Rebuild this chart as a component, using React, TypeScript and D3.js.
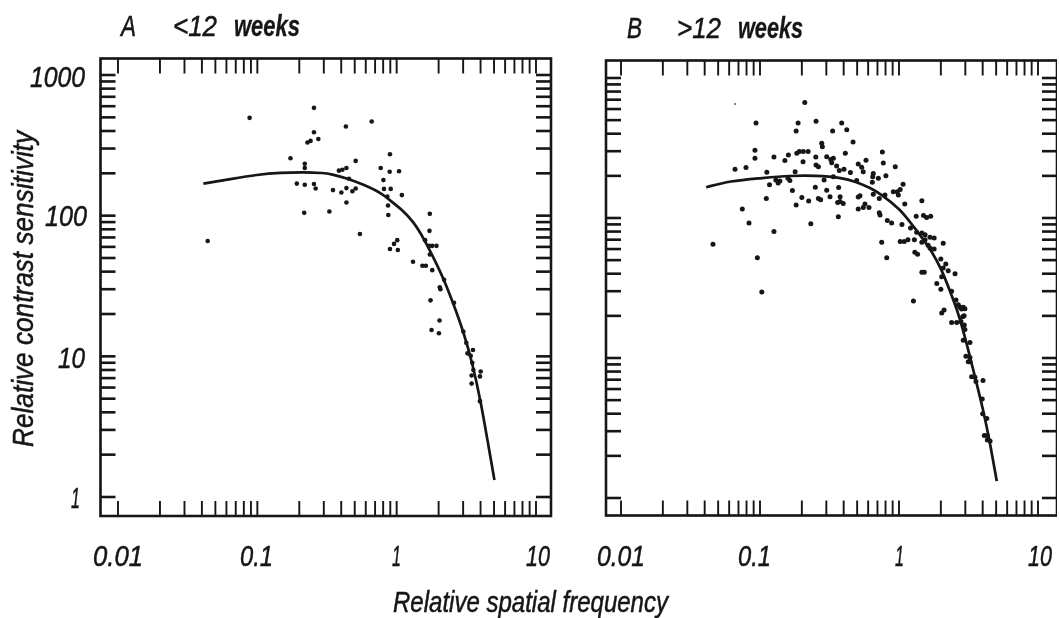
import React from "react";
import * as d3 from "d3";

const xTickLabels = ["0.01", "0.1", "1", "10"];
const yTickLabels = ["1000", "100", "10", "1"];
const titleLetters = ["A", "B"];
const titleAges = ["<12", ">12"];

const curveA: [number, number][] = [
  [0.041, 169], [0.064, 182], [0.1, 196], [0.147, 202], [0.215, 204], [0.299, 201], [0.336, 198], [0.452, 183], [0.58, 166],
  [0.768, 146], [0.936, 124], [1.07, 112], [1.32, 91], [1.59, 67], [1.87, 48.6], [2.19, 35], [2.58, 23], [3.04, 14.6], [3.49, 9],
  [4.01, 4.8], [4.48, 2.55], [5.03, 1.32], [5.03, 1.32],
];
const curveB: [number, number][] = [
  [0.041, 166], [0.061, 184], [0.1, 192], [0.164, 201], [0.256, 201], [0.377, 195], [0.499, 181], [0.618, 164],
  [0.73, 150], [1.02, 116], [1.27, 87], [1.67, 61], [2.03, 43], [2.39, 28], [2.67, 21], [3.07, 12.7], [3.52, 7.35],
  [4.04, 4.25], [4.52, 2.46], [5.05, 1.32], [5.05, 1.32],
];

const pointsA: [number, number][] = [
  [0.044, 66], [0.088, 496], [0.173, 256], [0.192, 169], [0.219, 234], [0.219, 218], [0.219, 166], [0.217, 105],
  [0.229, 331], [0.241, 340], [0.255, 584], [0.255, 392], [0.274, 351], [0.255, 168], [0.262, 156], [0.329, 107],
  [0.349, 152], [0.385, 209], [0.408, 212], [0.436, 218], [0.432, 430], [0.508, 245], [0.455, 183], [0.401, 146],
  [0.436, 157], [0.481, 149], [0.508, 156], [0.436, 124], [0.662, 467], [0.545, 74], [0.768, 218], [0.895, 273],
  [0.891, 205], [1.04, 207], [0.803, 179], [0.811, 155], [0.906, 155], [0.857, 137], [1.09, 140], [0.867, 118],
  [0.871, 101], [1.01, 67], [0.957, 63], [0.895, 58], [1.02, 57], [1.31, 47], [1.53, 44], [1.62, 44], [1.8, 41],
  [1.73, 103], [1.72, 78], [1.6, 67], [1.71, 61], [1.8, 61], [1.93, 61], [1.73, 53], [2.04, 31], [2.06, 30],
  [2.19, 35], [1.75, 25], [2.58, 24], [2.03, 18], [1.78, 15.4], [2.01, 14.6], [3.01, 15], [3.16, 12.5], [3.53, 11.1],
  [3.22, 10.5], [3.4, 10.1], [3.49, 9], [3.55, 8], [4.01, 7.8], [3.96, 7.2], [3.45, 7.3], [3.45, 6.4], [3.96, 4.8],
];

const pointsB: [number, number][] = [
  [0.0936, 477], [0.092, 305], [0.092, 267], [0.126, 273], [0.16, 282], [0.151, 257], [0.0661, 223], [0.0793, 229],
  [0.112, 212], [0.117, 173], [0.111, 138], [0.0746, 116], [0.13, 187], [0.139, 184], [0.135, 178], [0.159, 192],
  [0.0459, 65], [0.0833, 92], [0.0957, 52], [0.103, 29.6], [0.126, 80], [0.232, 91], [0.182, 124], [0.2, 140],
  [0.224, 132], [0.171, 157], [0.164, 185], [0.179, 214], [0.263, 138], [0.273, 135], [0.25, 166], [0.302, 158],
  [0.319, 142], [0.289, 187], [0.253, 239], [0.263, 232], [0.252, 273], [0.204, 252], [0.184, 290], [0.192, 299],
  [0.205, 299], [0.222, 299], [0.21, 667], [0.188, 477], [0.182, 418], [0.253, 491], [0.278, 342], [0.281, 323],
  [0.302, 274], [0.333, 418], [0.387, 477], [0.421, 427], [0.467, 349], [0.411, 290], [0.759, 296], [0.323, 262],
  [0.337, 267], [0.328, 248], [0.356, 235], [0.372, 218], [0.402, 223], [0.579, 258], [0.771, 247], [0.94, 232],
  [0.509, 243], [0.539, 230], [0.553, 214], [0.447, 211], [0.653, 208], [0.647, 197], [0.71, 192], [0.805, 200],
  [0.643, 180], [0.337, 197], [0.496, 185], [0.368, 165], [0.377, 142], [0.377, 131], [0.397, 127], [0.362, 129],
  [0.509, 141], [0.524, 144], [0.653, 148], [0.721, 138], [0.793, 146], [0.569, 126], [0.553, 119], [0.509, 116],
  [0.608, 119], [0.721, 109], [0.73, 105], [0.366, 102], [0.824, 96], [0.885, 92], [0.91, 154], [0.972, 154],
  [1.07, 174], [1.02, 160], [0.989, 146], [1.46, 133], [1.1, 126], [1.33, 103], [1.5, 104], [1.58, 101], [1.69, 103],
  [1.05, 90], [1.21, 85], [1.34, 79], [1.46, 78], [1.54, 76], [1.67, 73], [1.79, 72], [0.751, 67], [1.02, 68],
  [1.09, 68], [1.16, 70], [1.29, 70], [1.46, 67], [1.54, 70], [2.08, 66], [1.62, 64], [1.67, 61], [1.79, 60], [1.3, 57],
  [1.36, 55], [0.816, 52], [2.0, 51], [2.17, 47], [2.08, 44], [2.26, 42], [1.46, 41], [1.52, 41], [2.53, 40], [2.03, 38],
  [1.87, 34], [2.0, 31], [2.39, 30], [1.27, 25.5], [2.57, 26], [2.67, 24], [2.75, 23], [2.9, 23], [2.11, 22], [2.03, 21],
  [2.82, 22.4], [2.98, 22.5], [2.39, 17.9], [2.6, 17.9], [2.79, 18.2], [2.87, 19.7], [2.94, 20], [2.98, 16], [2.95, 17.2],
  [2.9, 13.4], [3.24, 12.9], [3.03, 10.3], [3.24, 10.1], [3.15, 9.4], [3.24, 9.4], [3.33, 7.35], [3.52, 7.3], [3.58, 6.8],
  [4.02, 6.9], [3.97, 5.1], [4.0, 4.0], [4.28, 3.7], [4.11, 2.8], [4.32, 2.8], [4.32, 2.6], [4.52, 2.55],
];
const faintPointB: [number, number] = [0.0661, 652];

const INK = "#141414";
const FONT = "'Liberation Sans Narrow','Liberation Sans',Arial,sans-serif";

type TProps = { x: number; y: number; w: number; size?: number; anchor?: string; rotate?: boolean; bold?: boolean; children: string };
function T({ x, y, w, size = 30, anchor = "start", rotate, bold, children }: TProps) {
  return (
    <text
      x={rotate ? 0 : x}
      y={rotate ? 0 : y}
      transform={rotate ? `translate(${x},${y}) rotate(-90)` : undefined}
      textAnchor={anchor}
      fontFamily={FONT}
      fontStyle="italic"
      fontSize={size}
      fontWeight={bold ? 700 : 400}
      fill={INK}
      stroke={INK}
      strokeWidth={bold ? 0.3 : 0.5}
      textLength={w}
      lengthAdjust="spacingAndGlyphs"
    >
      {children}
    </text>
  );
}

type PanelProps = {
  left: number; right: number; top: number; bottom: number;
  x0: number; x1: number; y0: number; y1: number;
  curve: [number, number][]; points: [number, number][]; r: number;
};

function Panel({ left, right, top, bottom, x0, x1, y0, y1, curve, points, r }: PanelProps) {
  const x = d3.scaleLog().domain([0.01, 10]).range([x0, x1]);
  const y = d3.scaleLog().domain([1, 1000]).range([y0, y1]);
  const xt = x.ticks();
  const yt = y.ticks();
  const line = d3.line<[number, number]>().x((d) => x(d[0])).y((d) => y(d[1])).curve(d3.curveBasis);
  const len = 15;
  return (
    <g>
      <rect x={left} y={top} width={right - left} height={bottom - top} fill="none" stroke={INK} strokeWidth={2.6} />
      {xt.map((t) => (
        <g key={t} stroke={INK} strokeWidth={1.9}>
          <line x1={x(t)} x2={x(t)} y1={top} y2={top + len} />
          <line x1={x(t)} x2={x(t)} y1={bottom} y2={bottom - len} />
        </g>
      ))}
      {yt.map((t) => (
        <g key={t} stroke={INK} strokeWidth={2.6}>
          <line x1={left} x2={left + len} y1={y(t)} y2={y(t)} />
          <line x1={right} x2={right - len} y1={y(t)} y2={y(t)} />
        </g>
      ))}
      <path d={line(curve) ?? ""} fill="none" stroke={INK} strokeWidth={2.7} />
      {points.map((p, i) => (
        <circle key={i} cx={x(p[0])} cy={y(p[1])} r={r} fill={INK} />
      ))}
    </g>
  );
}

export default function App() {
  const bx = d3.scaleLog().domain([0.01, 10]).range([621, 1038]);
  const by = d3.scaleLog().domain([1, 1000]).range([498, 78]);
  return (
    <svg width={1059} height={618} style={{ position: "absolute", left: 0, top: 0, background: "#fff" }}>
      <defs>
        <filter id="soft" x="0" y="0" width="100%" height="100%">
          <feGaussianBlur stdDeviation="0.45" />
        </filter>
      </defs>
      <g filter="url(#soft)">
        <Panel left={100.5} right={551} top={58.5} bottom={516} x0={118} x1={536} y0={497} y1={75} curve={curveA} points={pointsA} r={2.3} />
        <Panel left={606} right={1057} top={60.5} bottom={515.5} x0={621} x1={1038} y0={498} y1={78} curve={curveB} points={pointsB} r={2.5} />
        <circle cx={bx(faintPointB[0])} cy={by(faintPointB[1])} r={1} fill="#555" />

        <T x={121} y={36} w={15}>{titleLetters[0]}</T>
        <T x={173} y={36} w={44}>{titleAges[0]}</T>
        <T x={234} y={36} w={66} bold>weeks</T>
        <T x={627} y={38} w={15}>{titleLetters[1]}</T>
        <T x={677} y={38} w={44}>{titleAges[1]}</T>
        <T x={738} y={38} w={65} bold>weeks</T>

        <T x={30} y={87} w={55}>{yTickLabels[0]}</T>
        <T x={45} y={226} w={42}>{yTickLabels[1]}</T>
        <T x={58} y={368} w={27}>{yTickLabels[2]}</T>
        <T x={71} y={508} w={9}>{yTickLabels[3]}</T>

        <T x={93} y={566} w={50}>{xTickLabels[0]}</T>
        <T x={240} y={566} w={33}>{xTickLabels[1]}</T>
        <T x={392} y={566} w={9}>{xTickLabels[2]}</T>
        <T x={526} y={566} w={24}>{xTickLabels[3]}</T>
        <T x={597} y={566} w={48}>{xTickLabels[0]}</T>
        <T x={738} y={566} w={33}>{xTickLabels[1]}</T>
        <T x={895} y={566} w={9}>{xTickLabels[2]}</T>
        <T x={1028} y={566} w={24}>{xTickLabels[3]}</T>

        <T x={393} y={612} w={275}>Relative spatial frequency</T>
        <T x={33} y={447} w={316} rotate>Relative contrast sensitivity</T>
      </g>
    </svg>
  );
}
